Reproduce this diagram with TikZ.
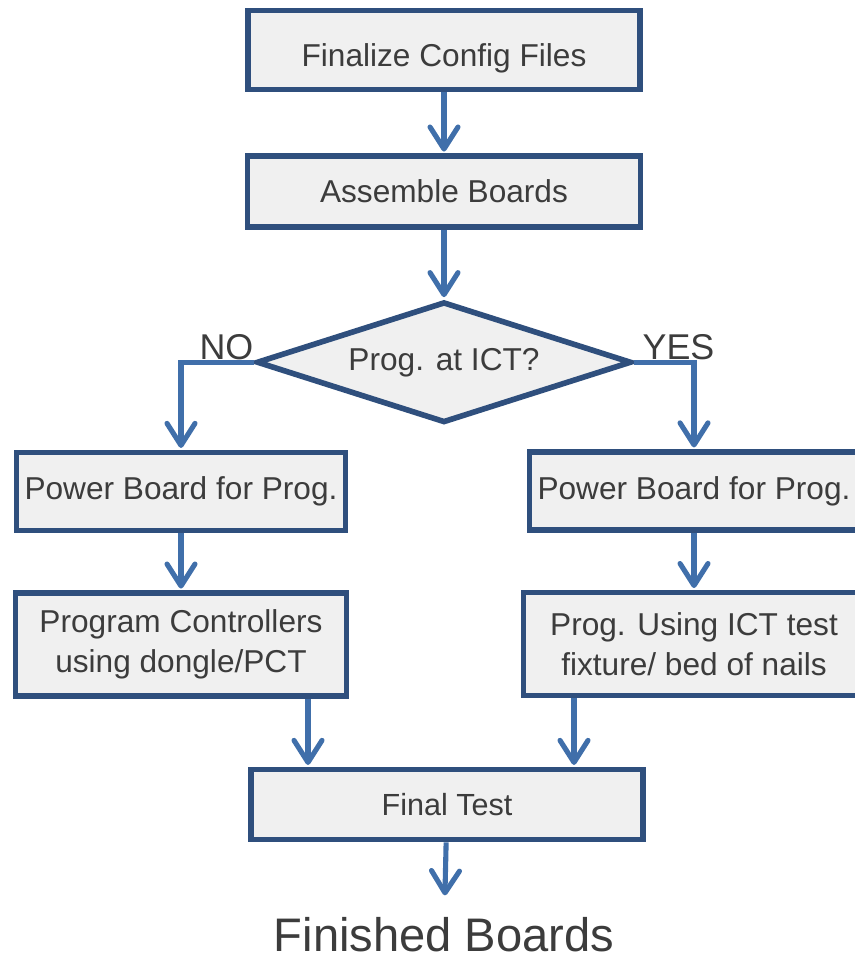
\documentclass[tikz,border=0pt]{standalone}
\usepackage{fontspec}
\setmainfont{Liberation Sans}
\usepackage{tikz}
\usetikzlibrary{positioning,arrows.meta,shapes.geometric,calc}

\definecolor{boxline}{HTML}{2F4F7D}
\definecolor{arrowblue}{HTML}{406FAA}
\definecolor{boxfill}{HTML}{F0F0F0}
\definecolor{textgray}{HTML}{3C3C3C}

\begin{document}
\begin{tikzpicture}[
    >={Straight Barb[length=0.44cm, width=0.56cm, round]},
    node distance=1.2cm,
    box/.style={draw=boxline, line width=3.2pt, fill=boxfill, text=textgray, align=center, font=\fontsize{18}{22.7}\selectfont, inner sep=2pt},
    decision/.style={diamond, aspect=3.1, draw=boxline, line width=3.2pt, fill=boxfill, text=textgray, font=\fontsize{18}{22.7}\selectfont, inner sep=0pt, minimum width=7.5cm, minimum height=2.42cm},
    answer/.style={text=textgray, font=\fontsize{20.4}{24}\selectfont, inner sep=0pt},
    result/.style={text=textgray, font=\fontsize{26.8}{32}\selectfont, inner sep=0pt},
    arrow/.style={->, draw=arrowblue, line width=2.9pt, shorten >=1pt},
]
\useasboundingbox (0,0) rectangle (17.08,-19.26);

\node[box, minimum width=7.84cm, minimum height=1.58cm, text height=0.8cm] (config) at (8.88,-1.0) {Finalize Config Files};
\node[box, minimum width=7.86cm, minimum height=1.42cm, below=1.22cm of config] (assemble) {Assemble Boards};
\node[decision, below=1.38cm of assemble] (ict) {Prog. at ICT?};

\node[answer, anchor=base east] (no) at ([yshift=1.5pt]ict.west) {NO};
\node[answer, anchor=base west] (yes) at ([xshift=0.16cm, yshift=1.5pt]ict.east) {YES};

\node[box, minimum width=6.58cm, minimum height=1.56cm] (powerL) at (3.62,-9.83) {Power Board for Prog.};
\node[box, minimum width=6.58cm, minimum height=1.56cm] (powerR) at (13.88,-9.82) {Power Board for Prog.};
\node[box, minimum width=6.62cm, minimum height=2.06cm, below=1.14cm of powerL] (progL) {Program Controllers\\using dongle/PCT};
\node[box, minimum width=6.82cm, minimum height=2.06cm, below=1.14cm of powerR] (progR) {Prog. Using ICT test\\fixture/ bed of nails};

\node[box, minimum width=7.84cm, minimum height=1.40cm, font=\fontsize{17.4}{21}\selectfont] (final) at (8.94,-16.09) {Final Test};
\node[result] (done) at (8.88,-18.7) {Finished Boards};

\coordinate (inL) at ([xshift=-2.78cm]final.north);
\coordinate (inR) at ([xshift=2.54cm]final.north);

\draw[arrow] (config) -- (assemble);
\draw[arrow] (assemble) -- (ict);
\draw[arrow] (ict.west) -| (powerL.north);
\draw[arrow] (ict.east) -| (powerR.north);
\draw[arrow] (powerL.south) -- (powerL.south |- progL.north);
\draw[arrow] (powerR.south) -- (powerR.south |- progR.north);
\draw[arrow] (inL |- progL.south) -- (inL);
\draw[arrow] (inR |- progR.south) -- (inR);
\draw[arrow, shorten >=0.44cm] (final) -- (done);
\end{tikzpicture}
\end{document}
